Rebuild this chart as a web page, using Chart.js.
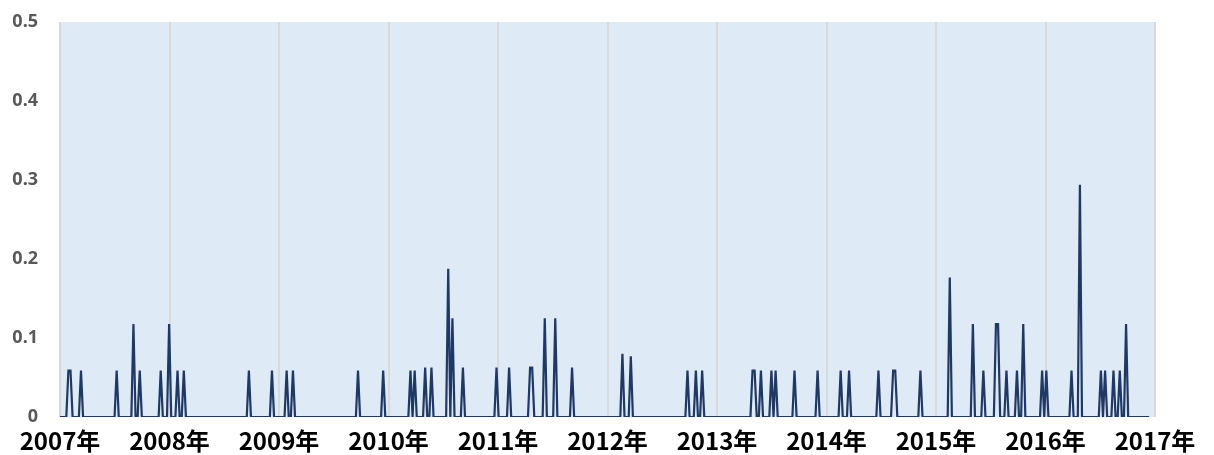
<!DOCTYPE html>
<html>
<head>
<meta charset="utf-8">
<script src="https://cdn.jsdelivr.net/npm/chart.js@4"></script>
<style>
  html, body { margin: 0; padding: 0; background: #fff; }
  #wrap { width: 1214px; height: 455px; }
</style>
</head>
<body>
<div id="wrap"><canvas id="c" width="1214" height="455"></canvas></div>
<script>
// weekly series starting in the first week of 2007; zero except for the weeks below
const startYear = 2007
const endYear = 2017
const weekCount = 520
const spikeWeeks = [
  4, 5, 10, 27, 35, 38, 48, 52, 56, 59,
  90, 101, 108, 111,
  142, 154, 167, 169, 174, 177, 185, 187, 192,
  208, 214, 224, 225, 231, 236, 244,
  268, 272, 299, 303, 306,
  330, 331, 334, 339, 341, 350, 361,
  372, 376, 390, 397, 398, 410,
  424, 435, 440, 446, 447, 451, 456, 459,
  468, 470, 482, 486, 496, 498, 502, 505, 508
]
const spikeValues = [
  0.0588, 0.0588, 0.0588, 0.0588, 0.1176, 0.0588, 0.0588, 0.1176, 0.0588, 0.0588,
  0.0588, 0.0588, 0.0588, 0.0588,
  0.0588, 0.0588, 0.0588, 0.0588, 0.0625, 0.0625, 0.1875, 0.125, 0.0625,
  0.0625, 0.0625, 0.0625, 0.0625, 0.125, 0.125, 0.0625,
  0.08, 0.0769, 0.0588, 0.0588, 0.0588,
  0.0588, 0.0588, 0.0588, 0.0588, 0.0588, 0.0588, 0.0588,
  0.0588, 0.0588, 0.0588, 0.0588, 0.0588, 0.0588,
  0.1765, 0.1176, 0.0588, 0.1176, 0.1176, 0.0588, 0.0588, 0.1176,
  0.0588, 0.0588, 0.0588, 0.2941, 0.0588, 0.0588, 0.0588, 0.0588, 0.1176
]
const yTicks = [0, 0.1, 0.2, 0.3, 0.4, 0.5]

const weekly = new Array(weekCount).fill(0)
spikeWeeks.forEach((w, i) => { weekly[w] = spikeValues[i] })
const points = weekly.map((v, w) => ({ x: startYear + w * 7 / 365.25, y: v }))

const plotBg = {
  id: 'plotBg',
  beforeDraw (chart) {
    const { ctx, chartArea: a } = chart
    ctx.save()
    ctx.fillStyle = '#DEEAF6'
    ctx.fillRect(a.left, a.top, a.right - a.left, a.bottom - a.top)
    ctx.restore()
  }
}

new Chart(document.getElementById('c'), {
  type: 'line',
  data: {
    datasets: [{
      data: points,
      borderColor: '#203864',
      borderWidth: 2.2,
      pointRadius: 0,
      tension: 0,
      fill: false
    }]
  },
  options: {
    responsive: false,
    animation: false,
    layout: { padding: { top: 22, right: 59, left: 0, bottom: 0 } },
    plugins: { legend: { display: false }, tooltip: { enabled: false } },
    scales: {
      x: {
        type: 'linear',
        min: startYear,
        max: endYear,
        afterFit (s) {
          s.height = 38
          s.paddingLeft = 0
          s.paddingRight = 0
        },
        afterBuildTicks (s) {
          s.ticks = []
          for (let y = startYear; y <= endYear; y++) s.ticks.push({ value: y })
        },
        grid: { color: '#D9D9D9', lineWidth: 2, drawTicks: false },
        border: { display: false },
        ticks: {
          autoSkip: false,
          maxRotation: 0,
          padding: 9,
          color: '#000',
          font: { family: '"Noto Sans CJK SC", "Noto Sans", sans-serif', size: 24, weight: 'bold' },
          callback: v => v + '年'
        }
      },
      y: {
        min: 0,
        max: 0.5,
        afterFit (s) {
          s.width = 60
          s.paddingTop = 0
          s.paddingBottom = 0
        },
        afterBuildTicks (s) { s.ticks = yTicks.map(v => ({ value: v })) },
        grid: { display: false, drawTicks: false },
        border: { display: false },
        ticks: {
          padding: 22,
          color: '#595959',
          font: { family: '"Noto Sans", "DejaVu Sans", sans-serif', size: 18, weight: 'bold' },
          callback: v => String(Math.round(v * 10) / 10)
        }
      }
    }
  },
  plugins: [plotBg]
})
</script>
</body>
</html>
